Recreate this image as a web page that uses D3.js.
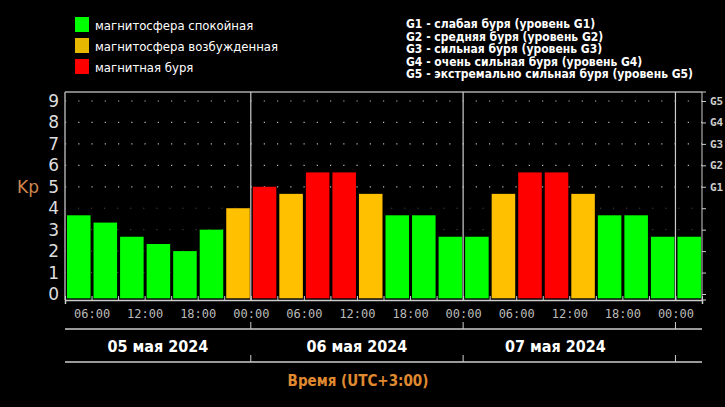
<!DOCTYPE html>
<html><head><meta charset="utf-8">
<script src="https://cdn.jsdelivr.net/npm/d3@7"></script>
<style>body{margin:0;background:#000;overflow:hidden}</style>
</head><body>
<div id="chart"></div>
<script>
// Kp index, 3-hour intervals, from 05.05 03:00 to 08.05 03:00 (UTC+3)
const kp = [3.67, 3.33, 2.67, 2.33, 2.0, 3.0, 4.0,
            5.0, 4.67, 5.67, 5.67, 4.67, 3.67, 3.67, 2.67,
            2.67, 4.67, 5.67, 5.67, 4.67, 3.67, 3.67, 2.67,
            2.67];
const start = new Date(2024, 4, 5, 3);
const days = ['05 мая 2024', '06 мая 2024', '07 мая 2024'];
const gLabels = ['G1', 'G2', 'G3', 'G4', 'G5'];
const legendItems = [
  ['#00ff00', 'магнитосфера спокойная'],
  ['#e6b800', 'магнитосфера возбужденная'],
  ['#ff0000', 'магнитная буря']
];
const gText = [
  'G1 - слабая буря (уровень G1)',
  'G2 - средняя буря (уровень G2)',
  'G3 - сильная буря (уровень G3)',
  'G4 - очень сильная буря (уровень G4)',
  'G5 - экстремально сильная буря (уровень G5)'
];

const W = 725, H = 407;
const pLeft = 65, pRight = 702, pTop = 92, pBottom = 300;
const hour = 3600 * 1000;
const end = new Date(+start + kp.length * 3 * hour);

const svg = d3.select('#chart').append('svg').attr('width', W).attr('height', H)
  .style('background', '#000');

const x = d3.scaleTime().domain([start, end]).range([pLeft, pRight]);
const y = d3.scaleLinear().domain([-0.28, 9.42]).range([pBottom, pTop]);
const color = d => d >= 5 ? '#ff0000' : d >= 4 ? '#ffc000' : '#00ff00';
const cond = 'Liberation Sans Narrow, DejaVu Sans Condensed, sans-serif';

// dotted grid
svg.append('g').selectAll('line').data(d3.range(5, 10)).enter().append('line')
  .attr('x1', pLeft).attr('x2', pRight).attr('y1', d => y(d)).attr('y2', d => y(d))
  .attr('stroke', '#bbb').attr('stroke-width', 1.2).attr('stroke-dasharray', '1.2,12.05');
svg.append('g').selectAll('line').data(d3.range(1, 5)).enter().append('line')
  .attr('x1', pLeft).attr('x2', pRight).attr('y1', d => y(d)).attr('y2', d => y(d))
  .attr('stroke', '#555').attr('stroke-width', 1).attr('stroke-dasharray', '1,12.05');

// bars
const bw = x(new Date(+start + 3 * hour)) - x(start);
svg.append('g').selectAll('rect').data(kp).enter().append('rect')
  .attr('x', (d, i) => x(new Date(+start + i * 3 * hour)) + 2)
  .attr('width', bw - 3)
  .attr('y', d => y(d))
  .attr('height', d => y(-0.2) - y(d))
  .attr('fill', color);

// frame
svg.append('line').attr('x1', pLeft).attr('x2', pRight).attr('y1', pTop).attr('y2', pTop)
  .attr('stroke', '#aaa').attr('stroke-width', 1.5);
svg.append('line').attr('x1', pLeft).attr('x2', pLeft).attr('y1', pTop).attr('y2', pBottom)
  .attr('stroke', '#aaa').attr('stroke-width', 1.5);
const midnights = d3.timeDay.range(new Date(+start + hour), end);
svg.append('g').selectAll('line').data(midnights).enter().append('line')
  .attr('x1', d => x(d)).attr('x2', d => x(d)).attr('y1', pTop).attr('y2', pBottom)
  .attr('stroke', '#ccc').attr('stroke-width', 1.2);

// bottom axis
const xAxis = d3.axisBottom(x).ticks(d3.timeHour.every(3)).tickSize(4)
  .tickFormat(d => d.getHours() % 6 === 0 ? d3.timeFormat('%H:%M')(d) : '');
const gx = svg.append('g').attr('transform', `translate(0,${pBottom})`).call(xAxis);
gx.select('.domain').attr('stroke', '#ccc').attr('stroke-width', 1.5);
gx.selectAll('.tick line').attr('stroke', '#ccc').attr('y1', -4).attr('y2', 0);
gx.selectAll('.tick text').attr('fill', '#bbb').attr('dy', '0.9em')
  .style('font-family', 'DejaVu Sans Mono, monospace').style('font-size', '12px');

// left axis
const gy = svg.append('g').attr('transform', `translate(${pLeft},0)`)
  .call(d3.axisLeft(y).tickValues(d3.range(0, 10)).tickSize(0).tickPadding(6));
gy.select('.domain').remove();
gy.selectAll('text').attr('fill', '#ddd').style('font-family', 'DejaVu Sans, sans-serif')
  .style('font-size', '17px');
svg.append('text').attr('x', 28).attr('y', y(4.7)).attr('text-anchor', 'middle')
  .attr('fill', '#d08850').style('font-family', 'DejaVu Sans, sans-serif')
  .style('font-size', '17px').text('Kp');

// right axis
const gr = svg.append('g').attr('transform', `translate(${pRight},0)`)
  .call(d3.axisRight(y).tickValues(d3.range(0, 10)).tickSize(4).tickPadding(4)
    .tickFormat(d => d >= 5 ? gLabels[d - 5] : ''));
gr.select('.domain').attr('stroke', '#ccc').attr('d', `M4,${pTop}H0V${pBottom}H4`);
gr.selectAll('.tick line').attr('stroke', '#ccc');
gr.selectAll('text').attr('fill', '#ccc').style('font-family', 'DejaVu Sans Mono, monospace')
  .style('font-size', '11px').style('font-weight', 'bold');

// date band
[329, 362].forEach(yy => svg.append('line').attr('x1', pLeft).attr('x2', pRight)
  .attr('y1', yy).attr('y2', yy).attr('stroke', '#ccc').attr('stroke-width', 1.5));
svg.append('g').selectAll('line').data(midnights).enter().append('line')
  .attr('x1', d => x(d)).attr('x2', d => x(d)).attr('y1', 322).attr('y2', 329)
  .attr('stroke', '#ccc');
svg.append('g').selectAll('line').data(midnights).enter().append('line')
  .attr('x1', d => x(d)).attr('x2', d => x(d)).attr('y1', 355).attr('y2', 362)
  .attr('stroke', '#ccc');
const dayStarts = [start, ...midnights];
svg.append('g').selectAll('text').data(days).enter().append('text')
  .attr('x', (d, i) => (x(dayStarts[i]) + x(dayStarts[i + 1] || end)) / 2 - (i === 2 ? 14 : 0))
  .attr('y', 352).attr('text-anchor', 'middle').attr('fill', '#fff')
  .style('font-family', cond).style('font-size', '16px').style('font-weight', 'bold')
  .text(d => d);
svg.append('text').attr('x', 358).attr('y', 386).attr('text-anchor', 'middle')
  .attr('fill', '#e08a30').style('font-family', cond).style('font-size', '15px')
  .style('font-weight', 'bold').text('Время (UTC+3:00)');

// legend
legendItems.forEach(([c, t], i) => {
  svg.append('rect').attr('x', 75).attr('y', 17 + i * 21).attr('width', 14).attr('height', 15)
    .attr('fill', c);
  svg.append('text').attr('x', 95).attr('y', 30 + i * 21).attr('fill', '#fff')
    .style('font-family', 'DejaVu Sans Condensed, sans-serif').style('font-size', '13px').text(t);
});
gText.forEach((t, i) => svg.append('text').attr('x', 406).attr('y', 28 + i * 12.5)
  .attr('fill', '#fff').style('font-family', cond).style('font-size', '12px')
  .style('font-weight', 'bold').text(t));
</script>
</body></html>
